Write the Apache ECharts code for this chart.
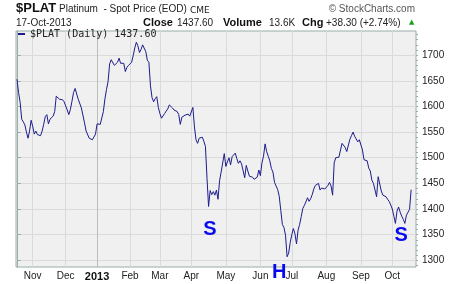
<!DOCTYPE html>
<html><head><meta charset="utf-8">
<script src="https://cdn.jsdelivr.net/npm/echarts@6/dist/echarts.min.js"></script>
<style>html,body{margin:0;padding:0;background:#fff}#c{width:460px;height:284px}</style>
</head><body><div id="c"></div>
<script>
// ---- data ----
const ticker = '$PLAT';
const seriesName = '$PLAT (Daily) 1437.60';
const monthStarts = [10, 31, 51, 72, 91, 111, 133, 155, 175, 197, 219, 239];
const monthLabels = ['Nov', 'Dec', '2013', 'Feb', 'Mar', 'Apr', 'May', 'Jun', 'Jul', 'Aug', 'Sep', 'Oct'];
const yTicks = [1300, 1350, 1400, 1450, 1500, 1550, 1600, 1650, 1700];
const yMinorTicks = [1290, 1300, 1310, 1320, 1330, 1340, 1350, 1360, 1370, 1380, 1390, 1400, 1410, 1420, 1430, 1440, 1450, 1460, 1470, 1480, 1490, 1500, 1510, 1520, 1530, 1540, 1550, 1560, 1570, 1580, 1590, 1600, 1610, 1620, 1630, 1640, 1650, 1660, 1670, 1680, 1690, 1700, 1710, 1720, 1730, 1740];
const prices = [
  1653,1627,1608,1575,1570,1564,1550,1538,1552,1573,
  1561,1546,1552,1545,1545,1543,1552,1565,1580,1584,
  1566,1575,1578,1581,1590,1620,1617,1614,1613,1613,
  1609,1601,1593,1584,1594,1610,1627,1635,1634,1614,
  1611,1597,1595,1568,1552,1549,1538,1540,1535,1532,
  1546,1566,1567,1565,1562,1590,1615,1633,1649,1683,
  1691,1693,1680,1681,1686,1694,1684,1687,1684,1668,
  1676,1680,1683,1686,1699,1714,1725,1718,1705,1711,
  1720,1722,1707,1690,1686,1640,1617,1609,1615,1619,
  1598,1586,1577,1578,1586,1591,1595,1603,1604,1597,
  1593,1590,1590,1584,1565,1579,1582,1583,1582,1585,
  1581,1580,1598,1560,1535,1528,1538,1540,1540,1532,
  1522,1460,1405,1436,1428,1434,1427,1437,1419,1455,
  1472,1475,1508,1483,1492,1500,1486,1502,1499,1509,
  1498,1489,1494,1488,1491,1461,1485,1474,1464,1463,
  1462,1458,1457,1462,1476,1465,1490,1503,1527,1512,
  1503,1494,1479,1472,1452,1445,1438,1425,1397,1370,
  1364,1349,1307,1314,1335,1350,1362,1352,1332,1359,
  1370,1385,1401,1407,1414,1422,1415,1420,1428,1439,
  1446,1448,1450,1437,1441,1439,1439,1441,1446,1452,
  1445,1427,1490,1500,1498,1501,1504,1528,1527,1520,
  1512,1515,1536,1543,1550,1542,1545,1531,1535,1536,
  1515,1496,1493,1494,1480,1474,1456,1450,1437,1424,
  1463,1461,1435,1427,1430,1424,1419,1415,1408,1400,
  1386,1372,1396,1404,1394,1386,1380,1372,1388,1388,1399.3,1437.6
];
const annotationText = ['S', 'H', 'S'];
const annotationDay = [122.9, 167.0, 244.7];
const annotationPrice = [1360.7, 1290, 1348.4];

// ---- chart ----
const FF = '"Liberation Sans", Arial, sans-serif';
const borderColor = '#98aea6';
const chart = echarts.init(document.getElementById('c'), null, {renderer: 'canvas'});
const splitColors = monthLabels.map(m => m === '2013' ? '#bcbcbc' : '#dadada');
const annotationOffsets = [[0, 0], [0, 7], [0, 0]];

chart.setOption({
  animation: false,
  backgroundColor: '#ffffff',
  grid: {left: 16, right: 44, top: 31, bottom: 17, show: true, backgroundColor: '#f0f0f0', borderColor: borderColor, borderWidth: 1},
  legend: {
    show: true, left: 18, top: 29, padding: 0, icon: 'rect', itemWidth: 7, itemHeight: 2,
    textStyle: {fontFamily: '"DejaVu Sans Mono", monospace', fontSize: 10, color: '#222'},
    data: [seriesName]
  },
  xAxis: {
    type: 'value', min: -0.64, max: 254.1,
    axisLine: {show: false},
    axisTick: {show: false, customValues: monthStarts},
    axisLabel: {
      customValues: monthStarts, fontFamily: FF, fontSize: 10, color: '#222', margin: 4,
      formatter: v => { const k = monthStarts.indexOf(v); const t = monthLabels[k]; return t === '2013' ? '{b|' + t + '}' : t; },
      rich: {b: {fontFamily: FF, fontWeight: 'bold', fontSize: 11, color: '#111'}}
    },
    splitLine: {show: true, lineStyle: {color: splitColors, width: 1}}
  },
  yAxis: [
    {
      type: 'value', position: 'right', min: 1287, max: 1747,
      axisLine: {show: true, lineStyle: {color: borderColor}},
      axisTick: {show: true, customValues: yTicks, length: 4, lineStyle: {color: borderColor}},
      axisLabel: {customValues: yTicks, fontFamily: FF, fontSize: 10, color: '#222', margin: 6, formatter: v => String(v)},
      splitLine: {show: true, lineStyle: {color: '#dadada'}}
    },
    {
      type: 'value', position: 'right', min: 1287, max: 1747,
      axisLine: {show: false},
      axisTick: {show: true, customValues: yMinorTicks, length: 2, lineStyle: {color: borderColor}},
      axisLabel: {show: false},
      splitLine: {show: false}
    }
  ],
  series: [{
    name: seriesName, type: 'line', yAxisIndex: 0,
    data: prices.map((v, i) => [i, v]),
    showSymbol: false, symbol: 'none',
    lineStyle: {color: '#1c1c8c', width: 1},
    itemStyle: {color: '#1c1c8c'},
    markPoint: {
      symbol: 'rect', symbolSize: 1, itemStyle: {color: 'rgba(0,0,0,0)'},
      label: {show: true, position: 'inside', formatter: p => p.name, fontFamily: FF, fontSize: 20, fontWeight: 'bold', color: '#0a0af0'},
      data: annotationText.map((t, k) => ({name: t, coord: [annotationDay[k], annotationPrice[k]], label: {offset: annotationOffsets[k]}}))
    }
  }],
  graphic: [
    {type: 'text', left: 16, top: 2, style: {text: ticker, font: 'bold 13px ' + FF, fill: '#111'}},
    {type: 'text', left: 59, top: 4, style: {text: 'Platinum  - Spot Price (EOD)', font: '10px ' + FF, fill: '#222'}},
    {type: 'text', left: 190, top: 6, style: {text: 'CME', font: '9px "DejaVu Sans", sans-serif', fill: '#222'}},
    {type: 'text', left: 16, top: 18, style: {text: '17-Oct-2013', font: '10px ' + FF, fill: '#222'}},
    {type: 'text', left: 143, top: 17, style: {text: 'Close', font: 'bold 11px ' + FF, fill: '#111'}},
    {type: 'text', left: 177, top: 18, style: {text: '1437.60', font: '10px ' + FF, fill: '#222'}},
    {type: 'text', left: 223, top: 17, style: {text: 'Volume', font: 'bold 11px ' + FF, fill: '#111'}},
    {type: 'text', left: 269, top: 18, style: {text: '13.6K', font: '10px ' + FF, fill: '#222'}},
    {type: 'text', left: 302, top: 17, style: {text: 'Chg', font: 'bold 11px ' + FF, fill: '#111'}},
    {type: 'text', left: 326, top: 18, style: {text: '+38.30 (+2.74%)', font: '10px ' + FF, fill: '#222'}},
    {type: 'text', left: 409, top: 19, style: {text: '▲', font: '7px "DejaVu Sans", sans-serif', fill: '#1aa31a'}},
    {type: 'text', right: 45, top: 4, style: {text: '© StockCharts.com', font: '10px ' + FF, fill: '#555'}}
  ]
});
</script>
</body></html>
